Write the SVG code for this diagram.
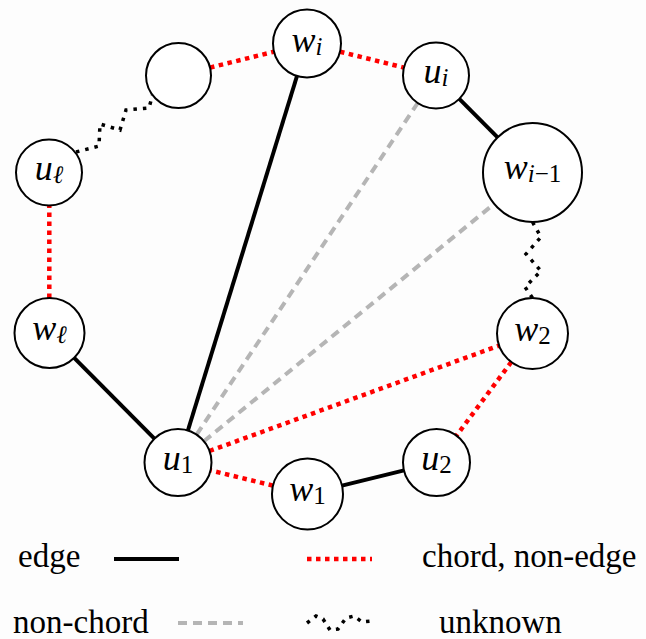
<svg xmlns="http://www.w3.org/2000/svg" width="646" height="639" viewBox="0 0 646 639">
  <style>
    .node { fill: #ffffff; stroke: #000000; stroke-width: 2; }
    .edge { stroke: #000000; stroke-width: 4; fill: none; }
    .chord { stroke: #ff0000; stroke-width: 4.5; stroke-dasharray: 4.5 4.5; fill: none; }
    .nonchord { stroke: #b5b5b5; stroke-width: 4; stroke-dasharray: 9 6; fill: none; }
    .unknown { stroke: #000000; stroke-width: 3.5; stroke-dasharray: 3.5 6; fill: none; }
    .lbl { font-family: "Liberation Serif", "Times New Roman", serif; font-style: italic; font-size: 36px; text-anchor: middle; fill: #000000; }
    .sub { font-size: 25px; }
    .up { font-style: normal; }
    .legend { font-family: "Liberation Serif", "Times New Roman", serif; font-size: 33px; fill: #000000; }
  </style>
  <rect x="0" y="0" width="646" height="639" fill="#fdfdfd"/>

  <!-- all links of the cycle plus the chords leaving u1 -->
  <g id="connectors">
    <line class="chord" x1="210.0" y1="67.6" x2="274.0" y2="51.7"/>
    <line class="chord" x1="340.0" y1="51.7" x2="404.0" y2="67.6"/>
    <line class="edge" x1="459.3" y1="98.9" x2="497.6" y2="137.4"/>
    <polyline class="unknown" points="532.5,222 541,237 526,254 541,271 525,287 532.5,298"/>
    <line class="chord" x1="511.3" y1="362.0" x2="456.5" y2="435.6"/>
    <line class="edge" x1="404.0" y1="470.4" x2="342.0" y2="485.6"/>
    <line class="chord" x1="273.0" y1="485.6" x2="210.5" y2="470.4"/>
    <line class="edge" x1="154.4" y1="438.7" x2="74.2" y2="357.9"/>
    <line class="chord" x1="49.3" y1="298" x2="49.3" y2="205.5"/>
    <polyline class="unknown" points="76,152 99,146 100,124 120,130 126,110 149,108 152.5,95"/>
    <line class="edge" x1="187.9" y1="430.5" x2="297.0" y2="76.0"/>
    <line class="nonchord" x1="196.6" y1="434.6" x2="417.7" y2="103.0"/>
    <line class="nonchord" x1="203.9" y1="441.3" x2="494.2" y2="203.8"/>
    <line class="chord" x1="209.5" y1="451.0" x2="499.1" y2="345.6"/>
  </g>

  <g id="node-blank">
    <circle class="node" cx="178.5" cy="75.5" r="32.5"/>
  </g>
  <g id="node-wi">
    <circle class="node" cx="307" cy="43.5" r="34"/>
    <text class="lbl" x="307" y="51.5">w<tspan class="sub" dy="3">i</tspan></text>
  </g>
  <g id="node-ui">
    <circle class="node" cx="436" cy="75.5" r="33"/>
    <text class="lbl" x="436" y="82.5">u<tspan class="sub" dy="3">i</tspan></text>
  </g>
  <g id="node-wi-1">
    <circle class="node" cx="532.5" cy="172.5" r="49.5"/>
    <text class="lbl" x="532.5" y="179">w<tspan class="sub" dy="3">i</tspan><tspan class="sub up">−1</tspan></text>
  </g>
  <g id="node-w2">
    <circle class="node" cx="532.5" cy="333.5" r="35.5"/>
    <text class="lbl" x="532.5" y="340.5">w<tspan class="sub up" dy="3">2</tspan></text>
  </g>
  <g id="node-u2">
    <circle class="node" cx="436.5" cy="462.5" r="33.5"/>
    <text class="lbl" x="436.5" y="469.5">u<tspan class="sub up" dy="3">2</tspan></text>
  </g>
  <g id="node-w1">
    <circle class="node" cx="307.5" cy="494" r="35.5"/>
    <text class="lbl" x="307.5" y="501">w<tspan class="sub up" dy="3">1</tspan></text>
  </g>
  <g id="node-u1">
    <circle class="node" cx="178" cy="462.5" r="33.5"/>
    <text class="lbl" x="178" y="469.5">u<tspan class="sub up" dy="3">1</tspan></text>
  </g>
  <g id="node-wl">
    <circle class="node" cx="49.5" cy="333" r="35"/>
    <text class="lbl" x="49.5" y="340">w<tspan class="sub" dy="3">ℓ</tspan></text>
  </g>
  <g id="node-ul">
    <circle class="node" cx="49" cy="172.5" r="33"/>
    <text class="lbl" x="49" y="179.5">u<tspan class="sub" dy="3">ℓ</tspan></text>
  </g>

  <g id="legend">
    <text class="legend" x="18" y="567">edge</text>
    <line class="edge" x1="114" y1="559" x2="179" y2="559" stroke-width="4.5"/>
    <line class="chord" x1="307" y1="559" x2="372" y2="559"/>
    <text class="legend" x="422" y="567">chord, non-edge</text>
    <text class="legend" x="13" y="633">non-chord</text>
    <line class="nonchord" x1="178" y1="623" x2="243" y2="623" stroke-dasharray="11 8"/>
    <polyline class="unknown" points="307,623 316,616 323,619 330,630 338,629 346,618 354,616 362,622 372,621"/>
    <text class="legend" x="439" y="633">unknown</text>
  </g>
</svg>
